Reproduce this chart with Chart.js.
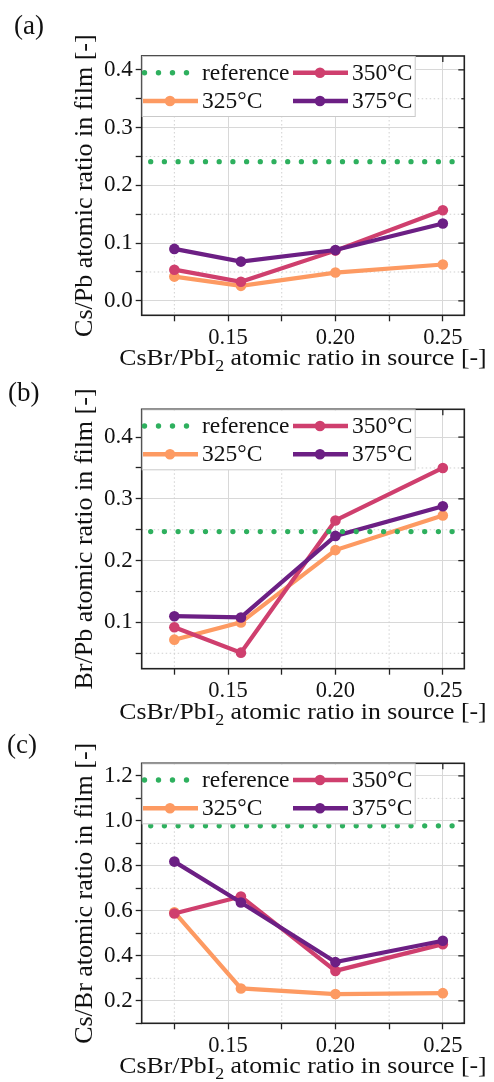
<!DOCTYPE html>
<html>
<head>
<meta charset="utf-8">
<script src="https://cdn.jsdelivr.net/npm/chart.js@4.4.1/dist/chart.umd.min.js"></script>
<style>
  body { margin: 0; width: 494px; height: 1082px; overflow: hidden; background: #fff; position: relative; }
  .panel { position: absolute; left: 0; width: 494px; }
  .tag { position: absolute; font: 27px 'Liberation Serif', serif; line-height: 27px; color: #111; }
</style>
</head>
<body>
<div class="panel" style="top:0"><canvas id="chartA" width="494" height="380"></canvas></div>
<div class="panel" style="top:360px"><canvas id="chartB" width="494" height="380"></canvas></div>
<div class="panel" style="top:720px"><canvas id="chartC" width="494" height="362"></canvas></div>
<div class="tag" style="left:14px;top:12px">(a)</div>
<div class="tag" style="left:8px;top:379px">(b)</div>
<div class="tag" style="left:7px;top:731px">(c)</div>
<script>
  // ── Data ──
  var xSource = [0.125, 0.156, 0.2, 0.25];
  var seriesNames = ['325°C', '350°C', '375°C'];
  var refName = 'reference';

  var csPb325 = [0.042, 0.026, 0.049, 0.063];
  var csPb350 = [0.054, 0.033, 0.087, 0.157];
  var csPb375 = [0.090, 0.068, 0.088, 0.134];
  var csPbRef = 0.241;

  var brPb325 = [0.072, 0.100, 0.217, 0.273];
  var brPb350 = [0.092, 0.051, 0.265, 0.350];
  var brPb375 = [0.110, 0.108, 0.240, 0.288];
  var brPbRef = 0.247;

  var csBr325 = [0.594, 0.255, 0.230, 0.234];
  var csBr350 = [0.588, 0.664, 0.333, 0.452];
  var csBr375 = [0.819, 0.637, 0.372, 0.467];
  var csBrRef = 0.978;

  // labelled ticks
  var xTickLabels = [0.15, 0.20, 0.25];
  var yTickLabelsA = [0.0, 0.1, 0.2, 0.3, 0.4];
  var yTickLabelsB = [0.1, 0.2, 0.3, 0.4];
  var yTickLabelsC = [0.2, 0.4, 0.6, 0.8, 1.0, 1.2];

  var xRange = [0.1098, 0.26];

  var seriesColors = ['#fd9a62', '#cf3f6e', '#6c1f84'];
  var refColor = '#2eb05e';
  var serif = "'Liberation Serif', 'Times New Roman', serif";

  Chart.defaults.font.family = serif;
  Chart.defaults.color = '#111';

  function isLabelled(v, list) {
    for (var i = 0; i < list.length; i++) if (Math.abs(v - list[i]) < 1e-6) return true;
    return false;
  }

  function pts(ys) {
    return xSource.map(function(x, i) { return { x: x, y: ys[i] }; });
  }

  // frame, minor grid, inner ticks, legend, axis titles
  var decor = {
    id: 'decor',
    beforeDatasetsDraw: function(chart) {
      var a = chart.chartArea, c = chart.ctx, xs = chart.scales.x, ys = chart.scales.y;
      var o = chart.options.plugins.decor;
      c.save();
      c.strokeStyle = '#d0d0d0';
      c.lineWidth = 1;
      c.setLineDash([1.5, 2.5]);
      xs.ticks.forEach(function(t) {
        if (isLabelled(t.value, o.xLabels)) return;
        var p = xs.getPixelForValue(t.value);
        if (p <= a.left + 1 || p >= a.right - 1) return;
        c.beginPath(); c.moveTo(p, a.top); c.lineTo(p, a.bottom); c.stroke();
      });
      ys.ticks.forEach(function(t) {
        if (isLabelled(t.value, o.yLabels)) return;
        var p = ys.getPixelForValue(t.value);
        if (p <= a.top + 1 || p >= a.bottom - 1) return;
        c.beginPath(); c.moveTo(a.left, p); c.lineTo(a.right, p); c.stroke();
      });
      c.restore();
    },
    afterDraw: function(chart) {
      var a = chart.chartArea, c = chart.ctx, xs = chart.scales.x, ys = chart.scales.y;
      var o = chart.options.plugins.decor;
      c.save();
      // inner ticks on top and right
      c.strokeStyle = '#222';
      c.lineWidth = 1.3;
      ys.ticks.forEach(function(t) {
        var p = ys.getPixelForValue(t.value);
        var len = isLabelled(t.value, o.yLabels) ? 6 : 3;
        c.beginPath(); c.moveTo(a.right, p); c.lineTo(a.right - len, p); c.stroke();
      });
      xs.ticks.forEach(function(t) {
        var p = xs.getPixelForValue(t.value);
        var len = isLabelled(t.value, o.xLabels) ? 6 : 3;
        c.beginPath(); c.moveTo(p, a.top); c.lineTo(p, a.top + len); c.stroke();
      });
      // frame
      c.lineWidth = 1.6;
      c.strokeRect(a.left, a.top, a.right - a.left, a.bottom - a.top);

      // legend
      var bx = a.left, by = a.top, bw = 273, bh = 60;
      c.fillStyle = '#fff';
      c.fillRect(bx + 0.8, by + 0.8, bw, bh);
      c.strokeStyle = '#c9c9c9';
      c.lineWidth = 1;
      c.strokeRect(bx + 0.5, by + 0.5, bw, bh);
      var ds = chart.data.datasets;
      var slots = [
        { d: ds[0], col: 0, row: 0 },
        { d: ds[2], col: 1, row: 0 },
        { d: ds[1], col: 0, row: 1 },
        { d: ds[3], col: 1, row: 1 }
      ];
      c.font = '23.5px ' + serif;
      c.textBaseline = 'middle';
      c.textAlign = 'left';
      slots.forEach(function(s) {
        var x0 = bx + (s.col ? 151.3 : 1.3);
        var y0 = by + (s.row ? 45 : 16.7);
        if (s.d.borderDash && s.d.borderDash.length) {
          c.fillStyle = s.d.borderColor;
          for (var k = 0; k < 4; k++) {
            c.beginPath(); c.arc(x0 + 1.5 + k * 14, y0, 2.7, 0, Math.PI * 2); c.fill();
          }
        } else {
          c.strokeStyle = s.d.borderColor;
          c.lineWidth = 4.5;
          c.lineCap = 'butt';
          c.beginPath(); c.moveTo(x0, y0); c.lineTo(x0 + 55, y0); c.stroke();
          c.fillStyle = s.d.borderColor;
          c.beginPath(); c.arc(x0 + 27, y0, 5.3, 0, Math.PI * 2); c.fill();
        }
        c.fillStyle = '#111';
        c.fillText(s.d.label, x0 + 59, y0 + 1);
      });

      // axis titles
      c.fillStyle = '#111';
      c.font = '26px ' + serif;
      c.save();
      c.translate(85, (a.top + a.bottom) / 2);
      c.rotate(-Math.PI / 2);
      c.textAlign = 'center';
      c.textBaseline = 'middle';
      c.fillText(o.yTitle, 0, 0);
      c.restore();

      // x title, slightly wide as in the source figure
      var p1 = 'CsBr/PbI', p2 = '2', p3 = ' atomic ratio in source [-]';
      var sx = 1.12;
      c.textBaseline = 'alphabetic';
      c.textAlign = 'left';
      c.font = '23px ' + serif;
      var w1 = c.measureText(p1).width, w3 = c.measureText(p3).width;
      c.font = '16px ' + serif;
      var w2 = c.measureText(p2).width;
      var total = (w1 + w2 + w3) * sx;
      c.save();
      c.translate((a.left + a.right) / 2 - total / 2, a.bottom + 50);
      c.scale(sx, 1);
      c.font = '23px ' + serif;
      c.fillText(p1, 0, 0);
      c.font = '16px ' + serif;
      c.fillText(p2, w1, 6);
      c.font = '23px ' + serif;
      c.fillText(p3, w1 + w2, 0);
      c.restore();
      c.restore();
    }
  };

  function makeChart(id, s325, s350, s375, ref, yMin, yMax, yStep, yLabels, yDigits, yTitle, pad) {
    var ctx = document.getElementById(id).getContext('2d');
    return new Chart(ctx, {
      type: 'line',
      data: {
        datasets: [
          {
            label: refName,
            data: [{ x: xRange[0], y: ref }, { x: xRange[1], y: ref }],
            borderColor: refColor,
            borderWidth: 5.3,
            borderDash: [0, 13.7],
            borderDashOffset: 4.7,
            borderCapStyle: 'round',
            pointRadius: 0,
            order: 0
          },
          {
            label: seriesNames[0], data: pts(s325),
            borderColor: seriesColors[0], backgroundColor: seriesColors[0],
            borderWidth: 4.2, pointRadius: 5.3, pointBorderWidth: 0, order: 3
          },
          {
            label: seriesNames[1], data: pts(s350),
            borderColor: seriesColors[1], backgroundColor: seriesColors[1],
            borderWidth: 4.2, pointRadius: 5.3, pointBorderWidth: 0, order: 2
          },
          {
            label: seriesNames[2], data: pts(s375),
            borderColor: seriesColors[2], backgroundColor: seriesColors[2],
            borderWidth: 4.2, pointRadius: 5.3, pointBorderWidth: 0, order: 1
          }
        ]
      },
      options: {
        responsive: false,
        animation: false,
        layout: { padding: { left: 0, right: 29.7, top: pad[0], bottom: pad[1] } },
        plugins: {
          legend: { display: false },
          tooltip: { enabled: false },
          decor: { xLabels: xTickLabels, yLabels: yLabels, yTitle: yTitle }
        },
        scales: {
          x: {
            type: 'linear',
            min: xRange[0], max: xRange[1],
            afterFit: function(s) { s.height = 40; },
            grid: {
              color: function(c) { return isLabelled(c.tick.value, xTickLabels) ? '#d8d8d8' : 'rgba(0,0,0,0)'; },
              tickColor: '#222', tickLength: 6, tickWidth: 1.3
            },
            border: { display: false },
            ticks: {
              stepSize: 0.025, includeBounds: false, autoSkip: false, maxRotation: 0, padding: 3,
              color: '#111', font: { family: serif, size: 22.5 },
              callback: function(v) { return isLabelled(v, xTickLabels) ? v.toFixed(2) : ''; }
            }
          },
          y: {
            min: yMin, max: yMax,
            afterFit: function(s) { s.width = 141.7; },
            grid: {
              color: function(c) { return isLabelled(c.tick.value, yLabels) ? '#d8d8d8' : 'rgba(0,0,0,0)'; },
              tickColor: '#222', tickLength: 6, tickWidth: 1.3
            },
            border: { display: false },
            ticks: {
              stepSize: yStep, includeBounds: false, autoSkip: false, padding: 3,
              color: '#111', font: { family: serif, size: 23 },
              callback: function(v) { return isLabelled(v, yLabels) ? v.toFixed(yDigits) : ''; }
            }
          }
        }
      },
      plugins: [decor]
    });
  }

  makeChart('chartA', csPb325, csPb350, csPb375, csPbRef, -0.025, 0.424, 0.05, yTickLabelsA, 1,
    'Cs/Pb atomic ratio in film [-]', [56, 24.7]);
  makeChart('chartB', brPb325, brPb350, brPb375, brPbRef, 0.025, 0.445, 0.05, yTickLabelsB, 1,
    'Br/Pb atomic ratio in film [-]', [49.3, 31.3]);
  makeChart('chartC', csBr325, csBr350, csBr375, csBrRef, 0.1, 1.256, 0.1, yTickLabelsC, 1,
    'Cs/Br atomic ratio in film [-]', [43.3, 18.7]);
</script>
</body>
</html>
